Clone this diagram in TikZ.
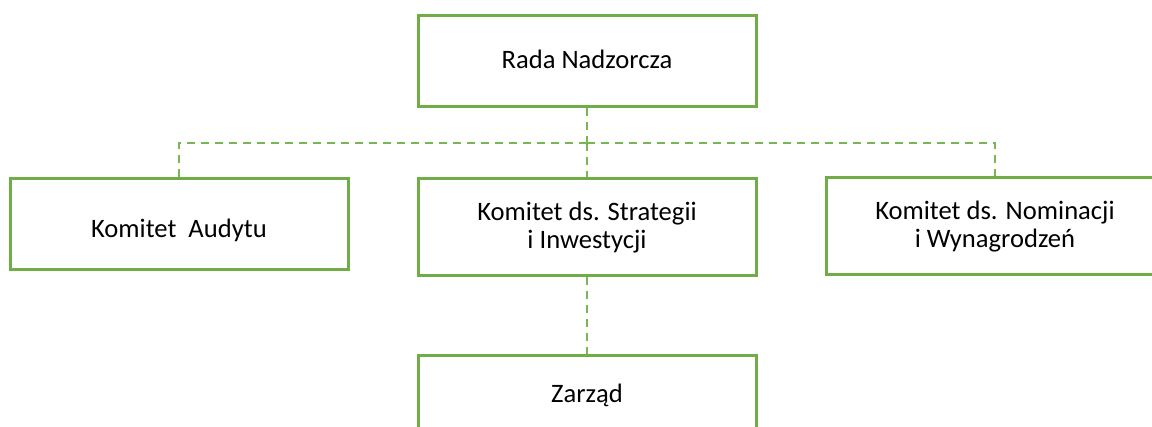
\documentclass[tikz,border=0pt]{standalone}
\usepackage{fontspec}
\setmainfont{Carlito}
\definecolor{boxgreen}{HTML}{70AD47}
\definecolor{dashgreen}{HTML}{77B651}
\tikzset{
  orgbox/.style={draw=boxgreen, line width=3pt, minimum width=338pt, inner sep=0pt,
    align=center, font=\fontsize{26.6}{27.5}\selectfont, text=black},
  oneline/.style={text height=16pt, text depth=0pt},
  twoline/.style={text height=43.5pt, text depth=0pt},
  conn/.style={draw=dashgreen, line width=2pt, dash pattern=on 8pt off 6pt}
}
\begin{document}
\begin{tikzpicture}[x=1pt,y=-1pt]
\useasboundingbox (0,0) rectangle (1152,426);
\clip (0,0) rectangle (1152,426);
\node[orgbox, oneline, minimum height=91pt] (rada) at (587,60.5) {Rada Nadzorcza};
\node[orgbox, text height=26.6pt, text depth=0pt, minimum height=91pt] (audyt) at (179,224) {Komitet\ \ Audytu};
\node[orgbox, twoline, minimum height=97pt] (strat) at (587,226.5) {Komitet ds. Strategii\\i Inwestycji};
\node[orgbox, twoline, minimum height=97pt] (nomin) at (995,225.5) {Komitet ds. Nominacji\\i Wynagrodzeń};
\node[orgbox, oneline, minimum height=79pt] (zarzad) at (587,394.5) {Zarząd};
\coordinate (hub) at (587,142.7);
\draw[conn] (rada.south) -- (hub);
\draw[conn] (hub) -- (strat.north);
\draw[conn] (hub) -| (audyt.north);
\draw[conn] (hub) -| (nomin.north);
\draw[conn] (strat.south) -- (zarzad.north);
\end{tikzpicture}
\end{document}
